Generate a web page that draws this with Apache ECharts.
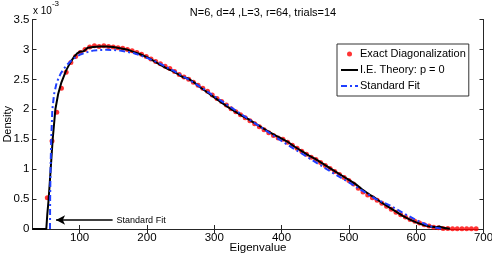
<!DOCTYPE html>
<html>
<head>
<meta charset="utf-8">
<script src="https://cdn.jsdelivr.net/npm/echarts@6/dist/echarts.min.js"></script>
<style>html,body{margin:0;padding:0;background:#fff}#c{width:492px;height:255px}</style>
</head>
<body>
<div id="c"></div>
<script>
// Density values are in units of 1e-3
var xTicks = [100, 200, 300, 400, 500, 600, 700];
var yTicks = [0, 0.5, 1, 1.5, 2, 2.5, 3, 3.5];

var edX = [52,59,66,73,80,87,94,101,108,115,122,129,136,143,150,157,164,171,178,185,192,199,206,213,220,227,234,241,248,255,262,269,276,283,290,297,304,311,318,325,332,339,346,353,360,367,374,381,388,395,402,409,416,423,430,437,444,451,458,465,472,479,486,493,500,507,514,521,528,535,542,549,556,563,570,577,584,591,598,605,612,619,626,633,640,647,654,661,668,675,682,689];
var edY = [0.52,1.47,1.95,2.35,2.62,2.78,2.88,2.95,3.00,3.04,3.06,3.05,3.06,3.05,3.04,3.03,3.02,3.00,2.98,2.95,2.92,2.88,2.84,2.80,2.76,2.72,2.68,2.63,2.58,2.54,2.50,2.45,2.40,2.35,2.30,2.24,2.18,2.13,2.07,2.01,1.96,1.91,1.86,1.81,1.76,1.71,1.66,1.61,1.56,1.52,1.50,1.45,1.40,1.35,1.30,1.25,1.20,1.16,1.11,1.06,1.01,0.96,0.91,0.86,0.81,0.75,0.68,0.62,0.57,0.52,0.48,0.43,0.38,0.33,0.28,0.24,0.20,0.16,0.13,0.10,0.07,0.05,0.03,0.02,0.01,0.01,0.005,0.005,0.003,0.003,0.003,0.005];

var ieX = [30,50.5,52,54,57,60,64,68,73,80,86,92,97,100,106,112,120,130,140,150,160,170,180,190,200,210,220,230,240,250,255,260,270,280,290,300,310,320,330,340,350,360,370,380,390,400,410,420,430,440,450,460,470,480,490,500,510,520,530,540,550,560,570,580,590,600,610,620,630,635,640,650];
var ieY = [0,0,0.25,0.5,1.0,1.5,2.0,2.25,2.45,2.65,2.78,2.88,2.94,2.96,2.97,3.03,3.04,3.05,3.05,3.04,3.02,3.00,2.96,2.92,2.87,2.81,2.74,2.68,2.63,2.56,2.53,2.52,2.45,2.36,2.28,2.20,2.12,2.04,1.97,1.90,1.84,1.77,1.70,1.63,1.57,1.51,1.45,1.37,1.30,1.23,1.17,1.10,1.03,0.96,0.89,0.82,0.75,0.66,0.58,0.51,0.43,0.36,0.29,0.22,0.16,0.11,0.07,0.04,0.03,0.04,0.02,0.005];

var sfX = [56,56.2,56.8,57.8,59.5,62,66,72,80,90,100,110,120,130,140,150,160,170,180,190,200,220,240,260,280,300,320,340,360,380,400,420,440,460,480,500,520,540,560,580,600,620,630,640];
var sfY = [0,0.5,1.0,1.5,2.0,2.25,2.45,2.6,2.73,2.84,2.91,2.95,2.98,2.99,2.995,2.99,2.98,2.96,2.94,2.90,2.86,2.76,2.64,2.51,2.37,2.22,2.07,1.92,1.77,1.62,1.47,1.33,1.19,1.05,0.91,0.78,0.64,0.50,0.40,0.27,0.15,0.05,0.02,0];

var arrowFrom = [149, 0.15];
var arrowTo = [65, 0.15];

function pairs(xs, ys){ return xs.map(function(x,i){ return [x, ys[i]]; }); }

var FONT = '"Liberation Sans", Arial, Helvetica, sans-serif';
var AX = '#262626';

var chart = echarts.init(document.getElementById('c'), null, {renderer:'canvas'});
chart.setOption({
  animation: false,
  backgroundColor: '#fff',
  title: {
    text: 'N=6, d=4 ,L=3, r=64, trials=14',
    left: 258, textAlign: 'center', top: 2,
    textStyle: {fontFamily: FONT, fontSize: 11, fontWeight: 'normal', color: '#000'}
  },
  grid: {left: 32.5, right: 8.5, top: 19.5, bottom: 26, containLabel: false, outerBoundsMode: 'none'},
  legend: {
    left: 337, top: 44, orient: 'vertical',
    padding: [3, 3, 3, 3],
    itemWidth: 17, itemHeight: 5, itemGap: 2,
    backgroundColor: '#fff', borderColor: '#333', borderWidth: 1,
    textStyle: {fontFamily: FONT, fontSize: 11, color: '#000', lineHeight: 14, padding: [0,0,0,-3]},
    data: [
      {name: 'Exact Diagonalization'},
      {name: 'I.E. Theory: p = 0', itemStyle: {opacity: 0}},
      {name: 'Standard Fit', itemStyle: {opacity: 0}}
    ]
  },
  xAxis: [{
    type: 'value', min: 30, max: 700, position: 'bottom',
    name: 'Eigenvalue', nameLocation: 'middle', nameGap: 13, nameMoveOverlap: false,
    nameTextStyle: {fontFamily: FONT, fontSize: 11.5, color: '#000'},
    axisLine: {show: true, lineStyle: {color: AX, width: 1}},
    axisTick: {show: true, inside: true, length: 4, customValues: xTicks, lineStyle: {color: AX}},
    axisLabel: {show: true, customValues: xTicks, margin: 3, fontFamily: FONT, fontSize: 11.5, color: '#000'},
    splitLine: {show: false}
  }, {
    type: 'value', min: 30, max: 700, position: 'top',
    axisLine: {show: true, lineStyle: {color: AX, width: 1}},
    axisTick: {show: true, inside: true, length: 4, customValues: xTicks, lineStyle: {color: AX}},
    axisLabel: {show: false},
    splitLine: {show: false}
  }],
  yAxis: [{
    type: 'value', min: 0, max: 3.5, interval: 0.5, position: 'left',
    name: 'Density', nameLocation: 'middle', nameGap: 19, nameRotate: 90, nameMoveOverlap: false,
    nameTextStyle: {fontFamily: FONT, fontSize: 11, color: '#000'},
    axisLine: {show: true, lineStyle: {color: AX, width: 1}},
    axisTick: {show: true, inside: true, length: 4, lineStyle: {color: AX}},
    axisLabel: {show: true, margin: 3, fontFamily: FONT, fontSize: 11.5, color: '#000',
      formatter: function(v){ return String(v); }},
    splitLine: {show: false}
  }, {
    type: 'value', min: 0, max: 3.5, interval: 0.5, position: 'right',
    axisLine: {show: true, lineStyle: {color: AX, width: 1}},
    axisTick: {show: true, inside: true, length: 4, lineStyle: {color: AX}},
    axisLabel: {show: false},
    splitLine: {show: false}
  }],
  graphic: [{
    type: 'text', left: 33, top: 0,
    style: {
      text: '{a|x 10}{b|-3}',
      rich: {
        a: {fontFamily: FONT, fontSize: 10, color: '#000', verticalAlign: 'bottom', lineHeight: 16},
        b: {fontFamily: FONT, fontSize: 8, color: '#000', verticalAlign: 'top', padding: [0,0,8,0]}
      }
    }
  }],
  series: [{
    name: 'Exact Diagonalization', type: 'scatter',
    data: pairs(edX, edY), symbol: 'circle', symbolSize: 5,
    itemStyle: {color: '#ff0000'}, z: 2
  }, {
    name: 'I.E. Theory: p = 0', type: 'line',
    data: pairs(ieX, ieY), symbol: 'none', smooth: false,
    lineStyle: {color: '#000', width: 2}, itemStyle: {color: '#000'}, z: 3,
    markLine: {
      silent: true, symbol: ['none', 'arrow'], symbolSize: [7, 9],
      lineStyle: {color: '#000', width: 1.5, type: 'solid'},
      label: {show: true, position: 'start', formatter: 'Standard Fit',
        fontFamily: FONT, fontSize: 9, color: '#000', distance: 4},
      data: [[{coord: arrowFrom}, {coord: arrowTo}]]
    }
  }, {
    name: 'Standard Fit', type: 'line',
    data: pairs(sfX, sfY), symbol: 'none',
    lineStyle: {color: '#1f3fff', width: 2, type: [6, 3, 2, 3]}, itemStyle: {color: '#1f3fff'}, z: 4
  }]
});
</script>
</body>
</html>
